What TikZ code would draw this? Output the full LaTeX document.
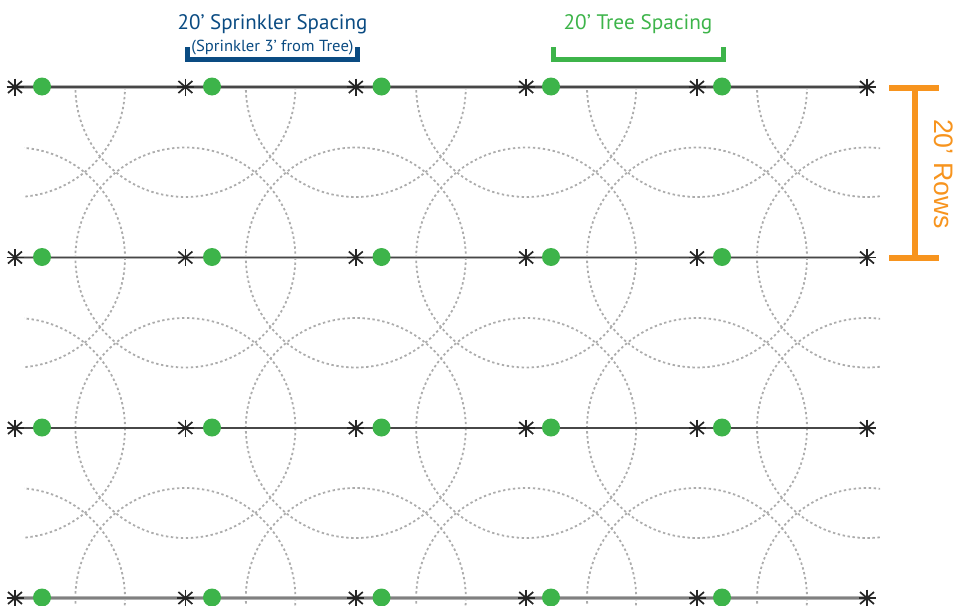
\documentclass[tikz,border=0pt]{standalone}
\usepackage{fontspec}
\setmainfont{PT Sans}
\newfontfamily\orangefont{Liberation Sans}
\definecolor{navy}{RGB}{10,75,130}
\definecolor{leaf}{RGB}{61,180,74}
\definecolor{amber}{RGB}{247,148,30}
\definecolor{arcgray}{RGB}{172,172,172}
\tikzset{
  x=1pt,y=-1pt,
  arcline/.style={draw=arcgray,line width=1.8pt,dash pattern=on 2.4pt off 2.6pt},
  rowline/.style={draw=black!72},
  rowhalo/.style={draw=black!30,line width=3.6pt},
  tree/.style={circle,fill=leaf,minimum size=18pt,inner sep=0pt,outer sep=0pt},
  sprinkler/.style={circle,minimum size=1pt,inner sep=0pt,outer sep=0pt},
  spoke/.style={draw=black!85,line width=1.7pt},
  bracketnavy/.style={draw=navy,line width=5pt,line cap=butt,line join=miter},
  bracketgreen/.style={draw=leaf,line width=5pt,line cap=butt,line join=miter},
  barorange/.style={draw=amber,line width=5.5pt,line cap=butt},
}
\begin{document}
\begin{tikzpicture}
\useasboundingbox (0,0) rectangle (955,605);
% coverage circles
\begin{scope}
  \clip (24,87) rectangle (880,605);
  \foreach \r/\yy in {1/87,2/257.5,3/428,4/598}
    \foreach \s/\xx in {1/15,2/185.4,3/355.8,4/526.2,5/697,6/867}
      \draw[arcline] (\xx,\yy) circle[radius=110];
\end{scope}
% sprinklers
\foreach \r/\yy in {1/87,2/257.5,3/428,4/598}
  \foreach \s/\xx in {1/15,2/185.4,3/355.8,4/526.2,5/697,6/867}{
    \node[sprinkler] (s\r\s) at (\xx,\yy) {};
  }
% row lines
\foreach \r in {1,2,4}
  \draw[rowhalo] (s\r1) -- (s\r6);
\foreach \r/\w in {1/1.8,2/1.8,3/1.6}
  \draw[rowline,line width=\w pt] (s\r1) -- (s\r6);
\draw[rowline,draw=black!50,line width=2pt] (s41) -- (s46);
% spokes
\foreach \r/\yy in {1/87,2/257.5,3/428,4/598}
  \foreach \s/\xx in {1/15,2/185.4,3/355.8,4/526.2,5/697,6/867}{
    \draw[spoke] (\xx,\yy-8.5) -- (\xx,\yy+8.5);
    \draw[spoke] (\xx-7,\yy-6) -- (\xx+7,\yy+6);
    \draw[spoke] (\xx-7,\yy+6) -- (\xx+7,\yy-6);
    \draw[spoke] (\xx-8.5,\yy) -- (\xx+8.5,\yy);
  }
% trees
\foreach \r/\yy in {1/86.5,2/257,3/427.5,4/597.5}
  \foreach \t/\xx in {1/42,2/212,3/381.5,4/551,5/722}
    \node[tree] (t\r\t) at (\xx,\yy) {};
% sprinkler bracket
\draw[bracketnavy] (187.5,47) -- (187.5,59.5) -- (357.5,59.5) -- (357.5,47);
\node[text=navy,inner sep=0pt] (sprtitle) at (272.5,24) {\fontsize{21}{21}\selectfont 20’ Sprinkler Spacing};
\node[text=navy,inner sep=0pt] (sprnote) at (272.5,47.5) {\fontsize{16}{16}\selectfont\scalebox{1.04}[1]{(Sprinkler 3’ from Tree)}};
% tree bracket
\draw[bracketgreen] (553,47) -- (553,59.5) -- (723,59.5) -- (723,47);
\node[text=leaf,inner sep=0pt] (treetitle) at (638,24) {\fontsize{21}{21}\selectfont\scalebox{1.015}[1]{20’ Tree Spacing}};
% rows bar
\coordinate (rowtop) at (915,87.5);
\coordinate (rowbot) at (915,258);
\draw[barorange] (rowtop) -- (rowbot);
\draw[barorange,line width=6pt] (889,87.5) -- (939,87.5);
\draw[barorange,line width=6pt] (889,258) -- (939,258);
\node[text=amber,inner sep=0pt,rotate=-90] (rowlabel) at (943.5,174) {\orangefont\fontsize{26.7}{26.7}\selectfont 20’ Rows};
\end{tikzpicture}
\end{document}
